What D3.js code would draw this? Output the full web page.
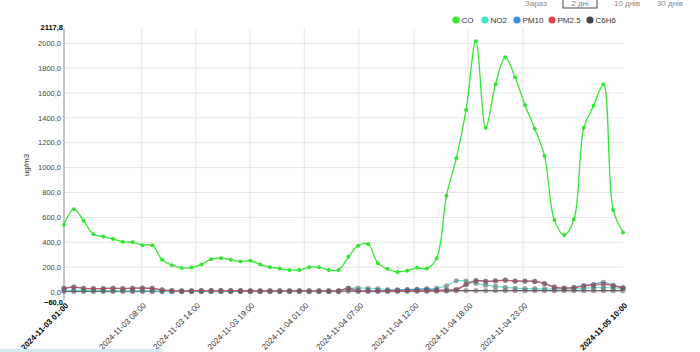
<!DOCTYPE html>
<html>
<head>
<meta charset="utf-8">
<script src="https://cdn.jsdelivr.net/npm/d3@7"></script>
<style>
  body { margin: 0; background: #fff; }
  svg { display: block; font-family: "Liberation Sans", Arial, sans-serif; }
</style>
</head>
<body>
<div id="chart"></div>
<script>
// hourly readings, 2024-11-03 01:00 .. 2024-11-05 10:00
const startTime = '2024-11-03 01:00'
const endTime = '2024-11-05 10:00'

const seriesNames = ['CO', 'NO2', 'PM10', 'PM2.5', 'C6H6']
const seriesColors = ['#33e633', '#3de8c8', '#3a8ef0', '#e04848', '#444444']

const co = [540, 666, 574, 465, 446, 427, 403, 401, 377, 377,
  259, 216, 194, 197, 221, 264, 272, 259, 245, 251,
  221, 200, 189, 178, 178, 200, 200, 178, 178, 283,
  373, 386, 232, 185, 162, 172, 195, 189, 272, 775,
  1075, 1463, 2017, 1321, 1670, 1887, 1726, 1504, 1313, 1094,
  580, 459, 585, 1321, 1498, 1670, 660, 478]
const no2 = [12, 14, 12, 12, 11, 11, 10, 10, 10, 9,
  6, 5, 5, 5, 5, 5, 5, 5, 5, 5,
  5, 5, 5, 5, 5, 5, 5, 5, 6, 30,
  32, 30, 28, 20, 15, 18, 22, 25, 32, 50,
  90, 88, 70, 55, 45, 38, 32, 28, 27, 26,
  26, 25, 25, 30, 35, 35, 33, 30]
const pm10 = [30, 40, 30, 28, 28, 30, 28, 30, 32, 30,
  18, 12, 10, 10, 11, 12, 12, 11, 11, 10,
  10, 10, 10, 10, 10, 10, 10, 10, 10, 30,
  10, 9, 9, 10, 18, 20, 22, 24, 15, 15,
  20, 60, 92, 85, 90, 95, 88, 88, 85, 68,
  40, 32, 38, 52, 62, 78, 55, 35]
const pm25 = [30, 40, 30, 28, 28, 30, 28, 30, 32, 30,
  18, 12, 10, 10, 11, 12, 12, 11, 11, 10,
  10, 10, 10, 10, 10, 10, 10, 10, 10, 30,
  8, 8, 8, 8, 9, 9, 10, 10, 12, 15,
  20, 60, 92, 85, 90, 95, 88, 88, 85, 68,
  40, 32, 36, 48, 55, 62, 50, 32]
const c6h6 = [6, 6, 6, 6, 6, 6, 6, 6, 6, 6,
  6, 6, 6, 6, 6, 6, 6, 6, 6, 6,
  6, 6, 6, 6, 6, 6, 6, 6, 6, 8,
  8, 8, 8, 8, 8, 8, 8, 8, 9, 10,
  11, 12, 12, 12, 12, 12, 12, 12, 12, 12,
  12, 12, 12, 12, 12, 12, 12, 12]

const yTicks = [0, 200, 400, 600, 800, 1000, 1200, 1400, 1600, 1800, 2000]
const yMin = -60
const yMax = 2117.8
const xTicks = ['2024-11-03 08:55', '2024-11-03 14:26', '2024-11-03 19:58', '2024-11-04 01:30',
  '2024-11-04 07:04', '2024-11-04 12:42', '2024-11-04 18:12', '2024-11-04 23:48']
const topButtons = ['Зараз', '2 дні', '10 днів', '30 днів']

const W = 700
const H = 352
const parse = d3.timeParse('%Y-%m-%d %H:%M')
const fmtX = d3.timeFormat('%Y-%m-%d %H:00')
const fmtY = v => d3.format('.1f')(v).replace('.', ',')

const t0 = parse(startTime)
const t1 = parse(endTime)
const times = d3.timeHour.range(t0, d3.timeHour.offset(t1, 1))
const allSeries = [co, no2, pm10, pm25, c6h6]

const svg = d3.select('#chart').append('svg')
  .attr('width', W)
  .attr('height', H)

const x = d3.scaleTime().domain([t0, t1]).range([64, 623])
const y = d3.scaleLinear().domain([yMin, yMax]).range([299.5, 28.6])

// grid
svg.append('g')
  .selectAll('line')
  .data(yTicks)
  .join('line')
  .attr('x1', 64).attr('x2', 623)
  .attr('y1', d => y(d)).attr('y2', d => y(d))
  .attr('stroke', '#e6e6e6')
svg.append('g')
  .selectAll('line')
  .data(xTicks.map(parse))
  .join('line')
  .attr('x1', d => x(d)).attr('x2', d => x(d))
  .attr('y1', y(yMax)).attr('y2', y(yMin))
  .attr('stroke', '#e6e6e6')

// y axis
svg.append('line')
  .attr('x1', 64).attr('x2', 64)
  .attr('y1', y(yMax)).attr('y2', y(yMin))
  .attr('stroke', '#888')

const yLab = svg.append('g')
  .attr('font-size', 7.5)
  .attr('fill', '#444')
  .attr('text-anchor', 'end')
yLab.selectAll('text.t')
  .data(yTicks)
  .join('text')
  .attr('x', 61)
  .attr('y', d => y(d))
  .attr('dy', '0.35em')
  .text(fmtY)
yLab.selectAll('text.b')
  .data([yMin, yMax])
  .join('text')
  .attr('x', 63)
  .attr('y', d => y(d))
  .attr('dy', d => d === yMin ? '0.75em' : '0.2em')
  .attr('font-weight', 'bold')
  .attr('fill', '#000')
  .text(fmtY)

svg.append('text')
  .attr('transform', 'translate(29,165) rotate(-90)')
  .attr('text-anchor', 'middle')
  .attr('font-size', 8)
  .attr('fill', '#333')
  .text('ug/m3')

// x labels
const xl = svg.append('g').attr('font-size', 8).attr('text-anchor', 'end')
xl.selectAll('text.m')
  .data(xTicks.map(parse))
  .join('text')
  .attr('transform', d => 'translate(' + (x(d) + 5) + ',306) rotate(-45)')
  .attr('fill', '#333')
  .text(fmtX)
xl.selectAll('text.e')
  .data([t0, t1])
  .join('text')
  .attr('transform', d => 'translate(' + (x(d) + 5) + ',306) rotate(-45)')
  .attr('fill', '#000')
  .attr('font-weight', 'bold')
  .text(fmtX)

// lines, drawn low series first and CO on top
const line = d3.line()
  .x((d, i) => x(times[i]))
  .y(d => y(d))
  .curve(d3.curveCatmullRom)

const order = [4, 1, 2, 3, 0]
order.forEach(k => {
  const g = svg.append('g')
  g.append('path')
    .datum(allSeries[k])
    .attr('d', line)
    .attr('fill', 'none')
    .attr('stroke', seriesColors[k])
    .attr('stroke-width', 1.3)
    .attr('stroke-opacity', k === 0 ? 1 : 0.85)
  g.selectAll('circle')
    .data(allSeries[k])
    .join('circle')
    .attr('cx', (d, i) => x(times[i]))
    .attr('cy', d => y(d))
    .attr('r', k === 0 ? 2 : 2.6)
    .attr('fill', k === 0 ? seriesColors[k] : '#6a5a66')
    .attr('fill-opacity', k === 0 ? 1 : 0.55)
})

// legend
const lgX = [456, 485, 517, 552, 590]
const lg = svg.append('g').attr('font-size', 8).attr('fill', '#333')
seriesNames.forEach((n, i) => {
  lg.append('circle')
    .attr('cx', lgX[i]).attr('cy', 20).attr('r', 3.6)
    .attr('fill', seriesColors[i])
  lg.append('text')
    .attr('x', lgX[i] + 5.5).attr('y', 20).attr('dy', '0.35em')
    .text(n)
})

// buttons at the top edge
const btnX = [536, 580, 627, 670]
const tb = svg.append('g').attr('font-size', 8).attr('fill', '#888').attr('text-anchor', 'middle')
tb.append('rect')
  .attr('x', 563).attr('y', -8).attr('width', 34).attr('height', 16)
  .attr('fill', 'none').attr('stroke', '#444')
topButtons.forEach((b, i) => {
  tb.append('text').attr('x', btnX[i]).attr('y', 6).text(b)
})

// light strip at the bottom-left
svg.append('rect')
  .attr('x', 0).attr('y', 349).attr('width', 163).attr('height', 3)
  .attr('fill', '#d3ecf4')
</script>
</body>
</html>
